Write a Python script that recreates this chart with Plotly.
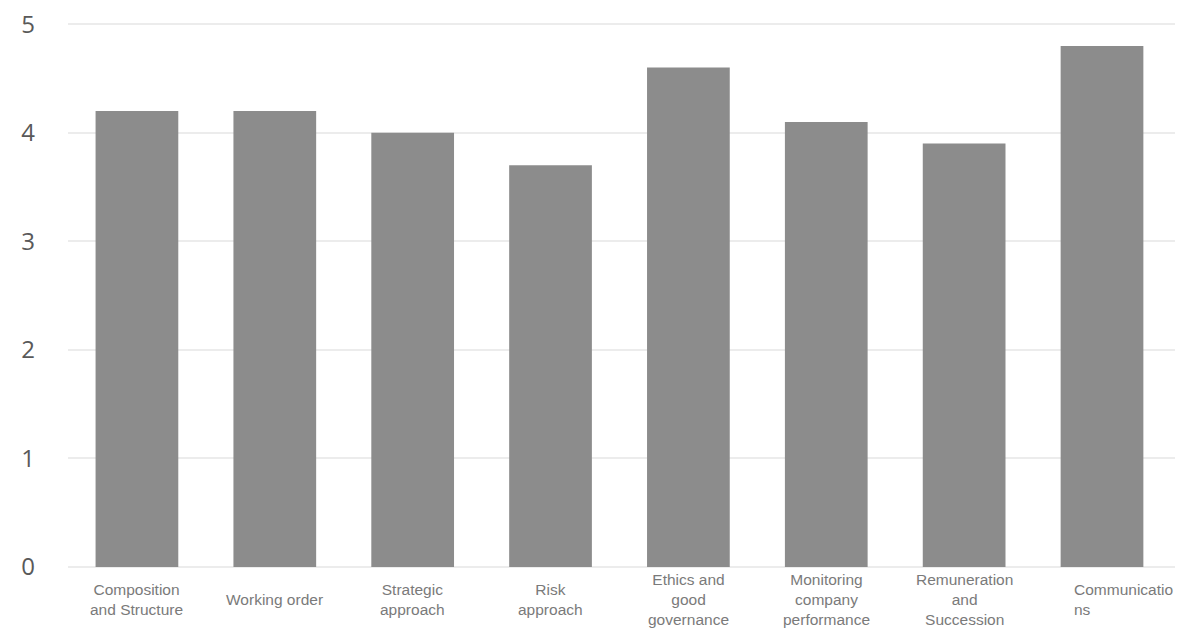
import plotly.graph_objects as go

categories = ["Composition and Structure", "Working order", "Strategic approach",
              "Risk approach", "Ethics and good governance",
              "Monitoring company performance", "Remuneration and Succession",
              "Communications"]
label_lines = ["Composition<br>and Structure", "Working order", "Strategic<br>approach",
               "Risk<br>approach", "Ethics and<br>good<br>governance",
               "Monitoring<br>company<br>performance", "Remuneration<br>and<br>Succession",
               "Communicatio<br>ns"]
values = [4.2, 4.2, 4.0, 3.7, 4.6, 4.1, 3.9, 4.8]
y_ticks = [0, 1, 2, 3, 4, 5]

fig = go.Figure(go.Bar(
    x=categories, y=values,
    marker=dict(color="#8c8c8c", line=dict(width=0)),
    hoverinfo="x+y",
))

annotations = []
for i, (cat, lab) in enumerate(zip(categories, label_lines)):
    last = i == len(categories) - 1
    annotations.append(dict(
        x=cat, xref="x", y=0, yref="paper",
        text=lab, showarrow=False,
        xanchor="left" if last else "center",
        align="left" if last else "center",
        xshift=-30 if last else 0,
        yanchor="middle", yshift=-32,
        font=dict(family="Liberation Sans, Arial, sans-serif", size=15.5, color="#7a7a7a"),
    ))

fig.update_layout(
    width=1191, height=634,
    margin=dict(l=68, r=16, t=22, b=67, autoexpand=False),
    paper_bgcolor="white", plot_bgcolor="white",
    bargap=0.4,
    showlegend=False,
    annotations=annotations,
    xaxis=dict(showticklabels=False, showgrid=False, zeroline=False, showline=False,
               ticks="", automargin=False),
    yaxis=dict(range=[0, 5.02], tickvals=y_ticks, ticktext=[str(t) for t in y_ticks],
               showgrid=True, gridcolor="#ececec", gridwidth=1.5,
               zeroline=True, zerolinecolor="#ececec", zerolinewidth=1.5,
               showline=False, ticks="", ticklabelstandoff=32, automargin=False,
               tickfont=dict(family="Open Sans, sans-serif", size=24, color="#595959")),
)

fig.write_html("out.html")
